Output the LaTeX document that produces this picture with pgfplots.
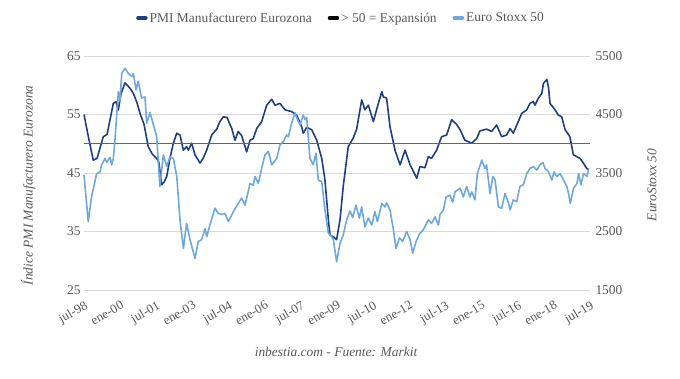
\documentclass[border=0pt]{standalone}
\usepackage{pgfplots}
\usepackage{pgfplotstable}
\pgfplotsset{compat=1.18}
\usepackage{fontspec}
\setmainfont{Liberation Serif}
\definecolor{pmi}{RGB}{31,64,128}
\definecolor{stoxx}{RGB}{111,168,220}
\definecolor{gridc}{RGB}{217,217,217}
\definecolor{tickc}{RGB}{89,89,89}
\definecolor{refc}{RGB}{100,100,100}

% month index: 0 = jul-98, 252 = jul-19
\pgfplotstableread{
m v
0 55.0
2 51.5
4.6 47.2
6.5 47.5
9.6 51.2
11.5 51.6
14.6 56.9
15.9 57.2
17.1 55.8
18.4 58.5
20.4 60.4
22.9 59.5
24.6 58.6
26.4 57.0
27.9 55.2
29.9 53.3
32.0 49.5
33.9 48.3
36.2 47.5
37.3 46.8
38.7 43.0
39.8 43.4
41.2 44.4
42.8 47.5
44.5 50.1
46.2 51.8
47.8 51.5
49.5 48.9
51.1 49.5
52.0 48.9
53.6 50.1
55.3 48.1
57.8 46.7
59.3 47.5
61.1 48.9
63.6 51.5
66.1 52.5
67.7 53.8
69.4 54.6
71.2 54.5
73.6 52.6
75.2 50.6
76.8 52.1
78.5 51.4
81.0 48.6
82.7 50.6
84.3 50.9
86.0 52.6
88.5 53.8
91.0 56.6
93.5 57.6
95.1 56.6
97.6 56.9
100.1 55.8
103.4 55.5
105.9 54.9
108.4 52.9
109.2 51.8
110.9 52.8
113.4 52.4
115.9 50.6
118.4 47.5
120.0 43.8
121.7 37.0
122.5 34.4
124.2 34.1
125.8 33.6
127.5 37.0
129.1 42.7
131.6 49.5
134.1 51.0
135.8 52.5
138.3 57.5
139.9 55.8
141.6 56.6
144.1 53.8
146.6 56.9
148.3 58.9
149.1 58.0
150.7 57.8
152.4 52.9
154.9 48.9
157.4 46.4
159.9 48.9
162.4 46.4
165.7 44.1
167.3 46.1
169.8 45.9
171.5 47.8
173.1 47.5
175.6 48.9
178.1 51.2
180.6 51.5
183.1 54.1
185.6 53.3
187.3 52.4
189.7 50.6
193.1 50.1
195.6 50.9
197.2 52.2
200.5 52.5
203.0 52.1
205.5 53.2
208.0 51.2
210.5 51.5
212.2 52.6
213.8 51.8
216.3 53.8
218.0 55.2
220.5 55.8
222.1 56.9
223.8 57.2
224.6 56.6
226.3 57.8
228.0 58.6
228.8 60.3
230.5 61.0
231.3 59.7
232.1 56.9
234.6 55.8
236.2 54.9
237.9 54.6
239.6 52.4
242.0 51.2
243.7 48.1
245.4 47.8
247.0 47.5
248.7 46.7
250.3 45.8
251.3 45.6
}\pmidata

\pgfplotstableread{
m v
0 3470
2.1 2670
3.8 3100
6.3 3490
8.0 3520
8.8 3640
10.5 3750
11.3 3680
12.9 3770
13.8 3640
14.6 3750
15.4 4060
17.1 4890
17.9 4730
18.8 5200
20.4 5290
22.1 5200
23.8 5150
24.6 5200
25.9 4920
27.0 5070
28.7 4780
30.4 4800
31.2 4350
32.9 4530
36.2 4120
37.8 3270
39.5 3810
41.2 3610
42.8 3780
44.5 3750
46.2 3440
47.8 2700
49.5 2210
51.1 2640
52.8 2360
55.3 2040
56.9 2330
58.6 2360
60.3 2550
61.1 2410
62.7 2610
65.2 2900
66.9 2810
68.6 2790
70.2 2810
71.9 2670
74.4 2840
76.8 2980
78.5 3070
80.2 2950
82.7 3320
84.3 3290
85.2 3440
86.8 3320
88.5 3580
90.1 3810
91.8 3870
93.5 3640
96.0 3750
97.6 3980
99.3 4040
101.0 4150
101.8 4120
103.4 4350
105.1 4530
106.0 4440
107.6 4320
108.4 4410
109.2 4490
110.1 4410
110.9 4450
111.7 4120
112.5 3750
114.2 3640
115.5 3840
116.7 3380
118.4 3350
120.0 2870
121.7 2470
123.4 2410
124.2 2360
125.8 1980
127.5 2300
129.1 2440
130.8 2700
132.5 2850
133.8 2740
135.5 2950
137.1 2730
138.3 2920
139.9 2580
141.6 2730
143.3 2610
144.9 2840
146.1 2670
148.3 2980
149.9 2920
150.7 2990
152.4 2870
154.1 2530
155.4 2210
157.1 2390
158.7 2330
160.7 2500
162.4 2360
163.7 2130
165.4 2330
167.3 2470
169.0 2530
171.5 2700
173.1 2640
174.8 2750
176.5 2610
177.3 2790
179.0 2870
180.3 3090
182.3 3120
183.6 3000
184.8 3180
187.3 3240
188.9 3090
190.6 3270
192.2 3090
193.1 3180
194.7 3040
195.9 3490
198.1 3720
199.7 3580
200.5 3640
202.2 3150
203.6 3440
204.7 3380
206.4 2920
208.0 2900
209.7 3150
211.3 3000
212.2 2870
213.8 3040
215.5 3010
217.1 3270
218.8 3300
220.5 3490
222.1 3580
223.8 3610
225.5 3550
227.1 3640
228.5 3680
229.6 3580
231.3 3520
233.0 3380
234.1 3520
235.5 3440
237.1 3490
238.8 3380
240.5 3270
241.3 3150
242.2 2980
243.8 3240
245.5 3320
246.3 3490
247.5 3300
248.8 3490
250.5 3440
251.3 3560
}\stoxxdata

\pgfplotstableread{
m v
0 50
252 50
}\refdata

\pgfplotsset{
  basestyle/.style={
    scale only axis, width=506bp, height=234bp,
    xmin=0, xmax=252,
    xtick={0,18,...,252},
    axis line style={draw=none},
    major tick length=0pt,
    tick label style={font=\fontsize{13.5}{16}\selectfont, text=tickc},
    /pgf/number format/assume math mode=true,
    clip=false,
  }
}

\begin{document}
\begin{tikzpicture}
\path[use as bounding box] (-84bp,-89bp) rectangle (596bp,290bp);
\begin{axis}[
  basestyle,
  ymin=25, ymax=65,
  ytick={25,35,...,65},
  ymajorgrids,
  grid style={gridc, line width=0.9pt},
  xticklabels={jul-98,ene-00,jul-01,ene-03,jul-04,ene-06,jul-07,ene-09,jul-10,ene-12,jul-13,ene-15,jul-16,ene-18,jul-19},
  xticklabel style={rotate=30, anchor=north east, inner sep=0pt, font=\fontsize{13}{15}\selectfont},
  xticklabel shift=10bp,
  ylabel={Índice PMI Manufacturero Eurozona},
  ylabel style={at={(axis description cs:-0.11,0.447)}, anchor=center, font=\itshape\fontsize{13.5}{16}\selectfont, text=tickc},
  legend columns=3,
  legend style={at={(axis description cs:0.508,1.162)}, anchor=center, draw=none, fill=none,
    font=\fontsize{13.5}{16}\selectfont, text=tickc,
    /tikz/every even column/.append style={column sep=14bp}},
  legend image code/.code={\draw[line width=3.5pt, line cap=round] (0bp,0bp) -- (8bp,0bp);},
]
\addplot[pmi, line width=1.6pt, line join=round] table[x=m, y=v] {\pmidata};
\addlegendentry{PMI Manufacturero Eurozona}
\addplot[refc, line width=1.3pt, forget plot] table[x=m, y=v] {\refdata};
\addlegendimage{black, line width=1.3pt}
\addlegendentry{> 50 = Expansión}
\addlegendimage{stoxx, line width=1.6pt}
\addlegendentry{Euro Stoxx 50}
\end{axis}
\begin{axis}[
  basestyle,
  ymin=1500, ymax=5500,
  ytick={1500,2500,...,5500},
  axis y line*=right,
  xticklabels={},
  /pgf/number format/1000 sep={},
  yticklabel style={anchor=west, xshift=2bp},
  ylabel={EuroStoxx 50},
  ylabel style={at={(axis description cs:1.1225,0.449)}, anchor=center, font=\itshape\fontsize{13.5}{16}\selectfont, text=tickc},
]
\addplot[stoxx, line width=1.6pt, line join=round] table[x=m, y=v] {\stoxxdata};
\end{axis}
\node[font=\itshape\fontsize{13.5}{16}\selectfont, text=tickc] at (252bp,-62bp) {inbestia.com - Fuente: Markit};
\end{tikzpicture}
\end{document}
